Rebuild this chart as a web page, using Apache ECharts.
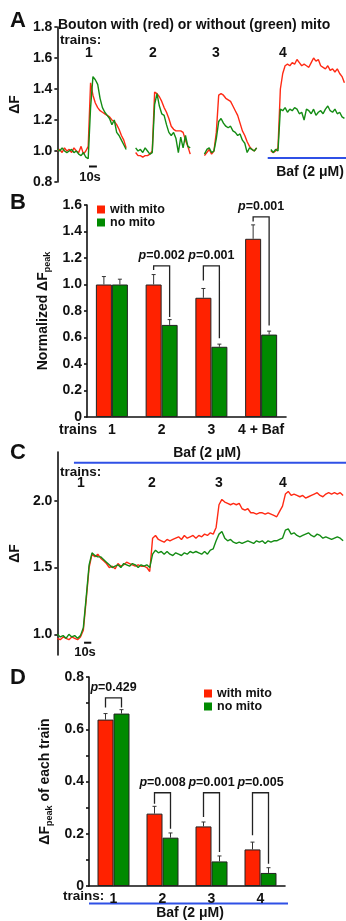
<!DOCTYPE html>
<html>
<head>
<meta charset="utf-8">
<script src="https://cdn.jsdelivr.net/npm/echarts@6/dist/echarts.min.js"></script>
<style>
  html, body { margin: 0; padding: 0; background: #fff; }
  #chart { width: 346px; height: 921px; }
</style>
</head>
<body>
<div id="chart"></div>
<script>
const FONT = '"Liberation Sans", Arial, sans-serif';
const INK = '#111';
const RED = '#ff2a14';
const GREEN = '#148c14';
const BAR_RED = '#ff2200';
const BAR_GREEN = '#008a00';
const BLUE = '#2f50e6';
const BAR_W = 16;

// A: dF of single boutons, one sample every 3 s, null = gap between trains
const stepA = 3;
const withMitoA = [
  1.0, 1.01, 0.99, 1.02, 1.0, 1.01, 0.99, 1.02, 1.0, 0.99, 1.03, 0.98, 1.0,
  1.03, 1.44, 1.36, 1.31, 1.28, 1.26, 1.25, 1.24, 1.23, 1.22, 1.20, 1.19, 1.17, 1.14, 1.10, 1.07, 1.02,
  null, null, null,
  0.99, 0.97, 0.97, 0.96, 0.97, 0.97, 0.98, 1.0, 1.38, 1.37, 1.35, 1.32, 1.28, 1.25, 1.21, 1.16,
  1.14, 1.13, 1.13, 1.13, 1.12, 1.07, 1.03, 0.98,
  null, null, null, null, null,
  0.97, 0.99, 1.01, 0.98, 1.0, 1.12, 1.36, 1.37, 1.36, 1.34, 1.33, 1.32, 1.29, 1.26, 1.23,
  1.18, 1.13, 1.10, 1.06, 1.03, 1.01, 1.0, 1.02,
  null, null, null, null, null,
  1.0, 0.99, 1.0, 1.02, 1.40, 1.50, 1.55, 1.56, 1.55, 1.57, 1.56, 1.59, 1.57, 1.55, 1.56, 1.55,
  1.54, 1.57, 1.60, 1.58, 1.59, 1.55, 1.54, 1.53, 1.55, 1.52, 1.53, 1.51, 1.53, 1.50, 1.48, 1.44
];
const noMitoA = [
  1.01, 1.0, 1.02, 1.0, 0.99, 1.0, 1.01, 0.99, 1.0, 0.98, 0.97, 0.99, 0.96,
  0.95, 1.28, 1.48, 1.46, 1.43, 1.34, 1.28, 1.25, 1.23, 1.21, 1.17, 1.20, 1.12, 1.10, 1.07, 1.04, 1.01,
  null, null, null,
  1.02, 1.0, 1.01, 0.99, 1.02, 1.0, 0.98, 0.99, 1.30, 1.37, 1.29, 1.24, 1.23, 1.17, 1.12, 1.10,
  1.12, 1.08, 0.99, 1.09, 1.02, 1.10, 1.03, 1.02,
  null, null, null, null, null,
  0.98, 1.01, 1.02, 0.99, 1.0, 1.08, 1.19, 1.21, 1.18, 1.16, 1.15, 1.16, 1.13, 1.12, 1.10,
  1.11, 1.07, 1.05, 0.99, 1.02, 1.01, 1.0, 1.02,
  null, null, null, null, null,
  1.01, 0.99, 1.01, 1.0, 1.27, 1.26, 1.28, 1.25, 1.27, 1.26, 1.28, 1.27, 1.24, 1.25, 1.20, 1.27,
  1.26, 1.24, 1.27, 1.23, 1.25, 1.26, 1.24, 1.27, 1.29, 1.26, 1.25, 1.27, 1.24, 1.25, 1.22, 1.21
];
const bafA = [266, 365];     // s
const scaleBarA = [40, 50];  // 10 s

// B: normalized dF peak
const trainsB = ['1', '2', '3', '4 + Baf'];
const withMitoB = [1.0, 1.0, 0.9, 1.345];
const withMitoErrB = [1.06, 1.075, 0.97, 1.45];
const noMitoB = [1.0, 0.695, 0.53, 0.622];
const noMitoErrB = [1.04, 0.735, 0.55, 0.648];
const pB = [null, '0.002', '0.001', '0.001'];
const bracketTopB = [null, 1.14, 1.14, 1.51];
const bracketLeftB = [null, 1.11, 1.03, 1.475];
const bracketRightB = [null, 0.755, 0.595, 0.69];

// C: dF in Baf, one sample every 4 s
const stepC = 4;
const withMitoC = [
  0.97, 0.96, 0.98, 0.97, 0.96, 0.98, 0.97, 0.96, 0.98,
  1.03, 1.26, 1.50, 1.60, 1.58, 1.60, 1.57, 1.55, 1.53, 1.50, 1.51, 1.49,
  1.53, 1.51, 1.52, 1.54, 1.53, 1.52, 1.51, 1.52, 1.51, 1.51, 1.50, 1.47,
  1.72, 1.74, 1.71, 1.70, 1.69, 1.71, 1.70, 1.71, 1.72, 1.73, 1.71, 1.74, 1.72, 1.73, 1.74, 1.72,
  1.74, 1.73, 1.75, 1.74, 1.76, 1.75, 1.80,
  1.97, 2.01, 1.99, 1.98, 1.97, 1.98, 1.97, 1.98, 1.94, 1.93, 1.94, 1.91, 1.91, 1.90, 1.91, 1.91,
  1.90, 1.91, 1.90, 1.89, 1.88, 1.92, 1.96,
  2.05, 2.07, 2.04, 2.05, 2.04, 2.03, 2.04, 2.02, 2.03, 2.04, 2.05, 2.06, 2.04, 2.03, 2.05, 2.06,
  2.05, 2.06, 2.05, 2.06, 2.04
];
const noMitoC = [
  1.0, 0.98, 0.99, 0.97, 1.0, 0.98, 0.99, 0.97, 0.99,
  1.05, 1.28, 1.52, 1.61, 1.59, 1.58, 1.58, 1.56, 1.54, 1.52, 1.50, 1.51,
  1.52, 1.50, 1.53, 1.52, 1.51, 1.53, 1.52, 1.50, 1.52, 1.51, 1.52, 1.50,
  1.60, 1.63, 1.61, 1.62, 1.60, 1.62, 1.60, 1.59, 1.61, 1.60, 1.59, 1.61, 1.60, 1.62, 1.61, 1.62,
  1.61, 1.60, 1.62, 1.60, 1.63, 1.64, 1.70,
  1.75, 1.77, 1.72, 1.70, 1.71, 1.69, 1.68, 1.69, 1.68, 1.69, 1.70, 1.69, 1.68, 1.70, 1.69, 1.70,
  1.68, 1.70, 1.69, 1.70, 1.70, 1.71, 1.72,
  1.78, 1.79, 1.75, 1.76, 1.74, 1.73, 1.74, 1.75, 1.76, 1.74, 1.73, 1.75, 1.74, 1.72, 1.73, 1.72,
  1.71, 1.72, 1.73, 1.72, 1.70
];
const bafC = [23, 400];
const scaleBarC = [37, 47];

// D: dF peak of each train
const trainsD = ['1', '2', '3', '4'];
const withMitoD = [0.637, 0.277, 0.228, 0.140];
const withMitoErrD = [0.66, 0.305, 0.245, 0.168];
const noMitoD = [0.660, 0.185, 0.094, 0.050];
const noMitoErrD = [0.675, 0.203, 0.115, 0.070];
const pD = ['0.429', '0.008', '0.001', '0.005'];
const bracketTopD = [0.72, 0.357, 0.357, 0.357];
const bracketLeftD = [0.683, 0.315, 0.264, 0.194];
const bracketRightD = [0.683, 0.219, 0.130, 0.085];

const toXY = (arr, step) => arr.map((v, i) => [i * step, v == null ? '-' : v]);

const labelStyle = { color: INK, fontSize: 14, fontWeight: 'bold', fontFamily: FONT };
const nameStyle = {
  color: INK, fontSize: 14, fontWeight: 'bold', fontFamily: FONT,
  rich: {
    m: { fontSize: 14, fontWeight: 'bold', fontFamily: FONT, color: INK, lineHeight: 16, verticalAlign: 'middle' },
    s: { fontSize: 9, fontWeight: 'bold', fontFamily: FONT, color: INK, lineHeight: 9, verticalAlign: 'bottom' }
  }
};
const inkLine = { color: INK, width: 1.6 };

function yAxisOf(grid, extra) {
  return Object.assign({
    type: 'value', gridIndex: grid,
    axisLine: { show: true, lineStyle: inkLine },
    axisTick: { show: true, length: 3, lineStyle: inkLine },
    splitLine: { show: false },
    nameLocation: 'middle', nameRotate: 90, nameTextStyle: nameStyle
  }, extra);
}
function catAxisOf(grid, data) {
  return {
    type: 'category', gridIndex: grid, data: data,
    axisLine: { show: true, lineStyle: inkLine },
    axisTick: { show: false },
    axisLabel: Object.assign({ margin: 6, interval: 0 }, labelStyle)
  };
}
const fmt1 = v => (v === 0 ? '0' : v.toFixed(1));

function errorItem(params, api) {
  const side = api.value(3);
  const base = api.coord([api.value(0), api.value(1)]);
  const top = api.coord([api.value(0), api.value(2)]);
  const x = base[0] + side * BAR_W / 2;
  const st = { stroke: '#333', lineWidth: 1 };
  return { type: 'group', children: [
    { type: 'line', shape: { x1: x, y1: base[1], x2: x, y2: top[1] }, style: st },
    { type: 'line', shape: { x1: x - 2, y1: top[1], x2: x + 2, y2: top[1] }, style: st }
  ]};
}
function errorData(vals, errs, side) {
  return vals.map((v, i) => [i, v, errs[i], side]);
}

function bracketRender(labels) {
  return function (params, api) {
    const c = api.value(0);
    const top = api.coord([c, api.value(1)]);
    const yl = api.coord([c, api.value(2)])[1];
    const yr = api.coord([c, api.value(3)])[1];
    const xl = top[0] - BAR_W / 2, xr = top[0] + BAR_W / 2;
    return { type: 'group', children: [
      { type: 'polyline',
        shape: { points: [[xl, yl], [xl, top[1]], [xr, top[1]], [xr, yr]] },
        style: { stroke: '#222', lineWidth: 1.3, fill: 'none' } },
      { type: 'text', x: top[0], y: top[1] - 10,
        style: {
          text: '{i|p}=' + labels[params.dataIndex],
          rich: { i: { fontStyle: 'italic', fontWeight: 'bold', fontSize: 12.5, fontFamily: FONT, fill: INK } },
          font: 'bold 12.5px ' + FONT, fill: INK,
          align: 'center', verticalAlign: 'middle', textAlign: 'center', textVerticalAlign: 'middle'
        } }
    ]};
  };
}
function bracketData(tops, lefts, rights, ps) {
  const data = [], labels = [];
  tops.forEach((t, i) => {
    if (t == null) return;
    data.push([i, t, lefts[i], rights[i]]);
    labels.push(ps[i]);
  });
  return { data, labels };
}
const brB = bracketData(bracketTopB, bracketLeftB, bracketRightB, pB);
const brD = bracketData(bracketTopD, bracketLeftD, bracketRightD, pD);

function txt(text, x, y, opts) {
  return {
    type: 'text', x: x, y: y, silent: true,
    style: Object.assign({
      text: text, font: 'bold 14px ' + FONT, fill: INK,
      textAlign: 'left', textVerticalAlign: 'middle', align: 'left', verticalAlign: 'middle'
    }, opts || {})
  };
}
function ctr(text, x, y, size) {
  return txt(text, x, y, { font: 'bold ' + (size || 14) + 'px ' + FONT, textAlign: 'center', align: 'center' });
}
const letter = (t, y) => txt(t, 10, y, { font: 'bold 22px ' + FONT });

const legendBase = {
  orient: 'vertical', padding: 0, itemGap: 0, itemWidth: 8, itemHeight: 8,
  icon: 'rect', selectedMode: false, data: ['with mito', 'no mito'],
  itemStyle: { borderWidth: 0 },
  textStyle: { color: INK, fontSize: 12.5, fontWeight: 'bold', fontFamily: FONT, lineHeight: 12 }
};

const lineSeries = (name, x, y, data, color, width) => ({
  name: name, type: 'line', xAxisIndex: x, yAxisIndex: y, data: data,
  showSymbol: false, symbol: 'none', connectNulls: false, animation: false,
  lineStyle: { color: color, width: width || 1.4 }, itemStyle: { color: color }, silent: true
});
const barSeries = (name, x, vals, color) => ({
  name: name, type: 'bar', xAxisIndex: x, yAxisIndex: x, data: vals,
  barWidth: BAR_W, barGap: '0%', animation: false,
  itemStyle: { color: color, borderColor: '#222', borderWidth: 1 }
});
const customSeries = (x, data, render, z) => ({
  type: 'custom', xAxisIndex: x, yAxisIndex: x, data: data, renderItem: render,
  animation: false, silent: true, z: z || 3
});

const chart = echarts.init(document.getElementById('chart'), null, { renderer: 'canvas' });
chart.setOption({
  animation: false,
  backgroundColor: '#fff',
  textStyle: { fontFamily: FONT },
  grid: [
    { left: 54, top: 27, width: 292, height: 155 },
    { left: 87, top: 205, width: 199, height: 212 },
    { left: 54, top: 452, width: 292, height: 203 },
    { left: 89, top: 677, width: 196, height: 209 }
  ],
  xAxis: [
    { type: 'value', gridIndex: 0, min: 0, max: 365, show: false },
    catAxisOf(1, trainsB),
    { type: 'value', gridIndex: 2, min: 0, max: 400, show: false },
    catAxisOf(3, trainsD)
  ],
  yAxis: [
    yAxisOf(0, { min: 0.8, max: 1.8, interval: 0.2, name: '{m|ΔF}', nameGap: 26,
      axisLabel: Object.assign({ margin: 5, formatter: fmt1 }, labelStyle) }),
    yAxisOf(1, { min: 0, max: 1.6, interval: 0.2, name: '{m|Normalized ΔF}{s|peak}', nameGap: 34,
      axisLabel: Object.assign({ margin: 5, formatter: fmt1 }, labelStyle) }),
    yAxisOf(2, { min: 0.845, max: 2.365, name: '{m|ΔF}', nameGap: 28,
      axisTick: { show: true, length: 3, lineStyle: inkLine, customValues: [1.0, 1.5, 2.0] },
      axisLabel: Object.assign({ margin: 5, formatter: fmt1, customValues: [1.0, 1.5, 2.0] }, labelStyle) }),
    yAxisOf(3, { min: 0, max: 0.8, interval: 0.2, name: '{m|ΔF}{s|peak}{m| of each train}', nameGap: 32,
      minorTick: { show: true, splitNumber: 2, length: 3, lineStyle: inkLine },
      axisLabel: Object.assign({ margin: 5, formatter: fmt1 }, labelStyle) })
  ],
  legend: [
    Object.assign({ left: 97, top: 203 }, legendBase),
    Object.assign({ left: 204, top: 687 }, legendBase)
  ],
  series: [
    // A
    lineSeries('A with', 0, 0, toXY(withMitoA, stepA), RED),
    lineSeries('A without', 0, 0, toXY(noMitoA, stepA), GREEN),
    lineSeries('A Baf', 0, 0, bafA.map(t => [t, 0.955]), BLUE, 2),
    lineSeries('A scale', 0, 0, scaleBarA.map(t => [t, 0.9]), INK, 2),
    // B
    barSeries('with mito', 1, withMitoB, BAR_RED),
    barSeries('no mito', 1, noMitoB, BAR_GREEN),
    customSeries(1, errorData(withMitoB, withMitoErrB, -1), errorItem),
    customSeries(1, errorData(noMitoB, noMitoErrB, 1), errorItem),
    customSeries(1, brB.data, bracketRender(brB.labels)),
    // C
    lineSeries('C with', 2, 2, toXY(withMitoC, stepC), RED),
    lineSeries('C without', 2, 2, toXY(noMitoC, stepC), GREEN),
    lineSeries('C Baf', 2, 2, bafC.map(t => [t, 2.285]), BLUE, 2),
    lineSeries('C scale', 2, 2, scaleBarC.map(t => [t, 0.937]), INK, 2),
    // D
    barSeries('with mito', 3, withMitoD, BAR_RED),
    barSeries('no mito', 3, noMitoD, BAR_GREEN),
    customSeries(3, errorData(withMitoD, withMitoErrD, -1), errorItem),
    customSeries(3, errorData(noMitoD, noMitoErrD, 1), errorItem),
    customSeries(3, brD.data, bracketRender(brD.labels))
  ],
  graphic: [
    letter('A', 21), letter('B', 203), letter('C', 453), letter('D', 678),
    // A
    txt('Bouton with (red) or without (green) mito', 58, 25),
    txt('trains:', 60, 40, { font: 'bold 13.5px ' + FONT }),
    ctr('1', 89, 53), ctr('2', 153, 53), ctr('3', 216, 53), ctr('4', 283, 53),
    ctr('10s', 90, 177, 13),
    ctr('Baf (2 μM)', 310, 172),
    // B
    txt('trains', 59, 430),
    // C
    ctr('Baf (2 μM)', 207, 453),
    txt('trains:', 60, 472, { font: 'bold 13.5px ' + FONT }),
    ctr('1', 81, 483), ctr('2', 152, 483), ctr('3', 219, 483), ctr('4', 283, 483),
    ctr('10s', 85, 652, 13),
    // D
    txt('trains:', 63, 896, { font: 'bold 13.5px ' + FONT }),
    { type: 'line', silent: true, shape: { x1: 89, y1: 903.5, x2: 288, y2: 903.5 }, style: { stroke: BLUE, lineWidth: 2 } },
    ctr('Baf (2 μM)', 190, 913)
  ]
});
</script>
</body>
</html>
